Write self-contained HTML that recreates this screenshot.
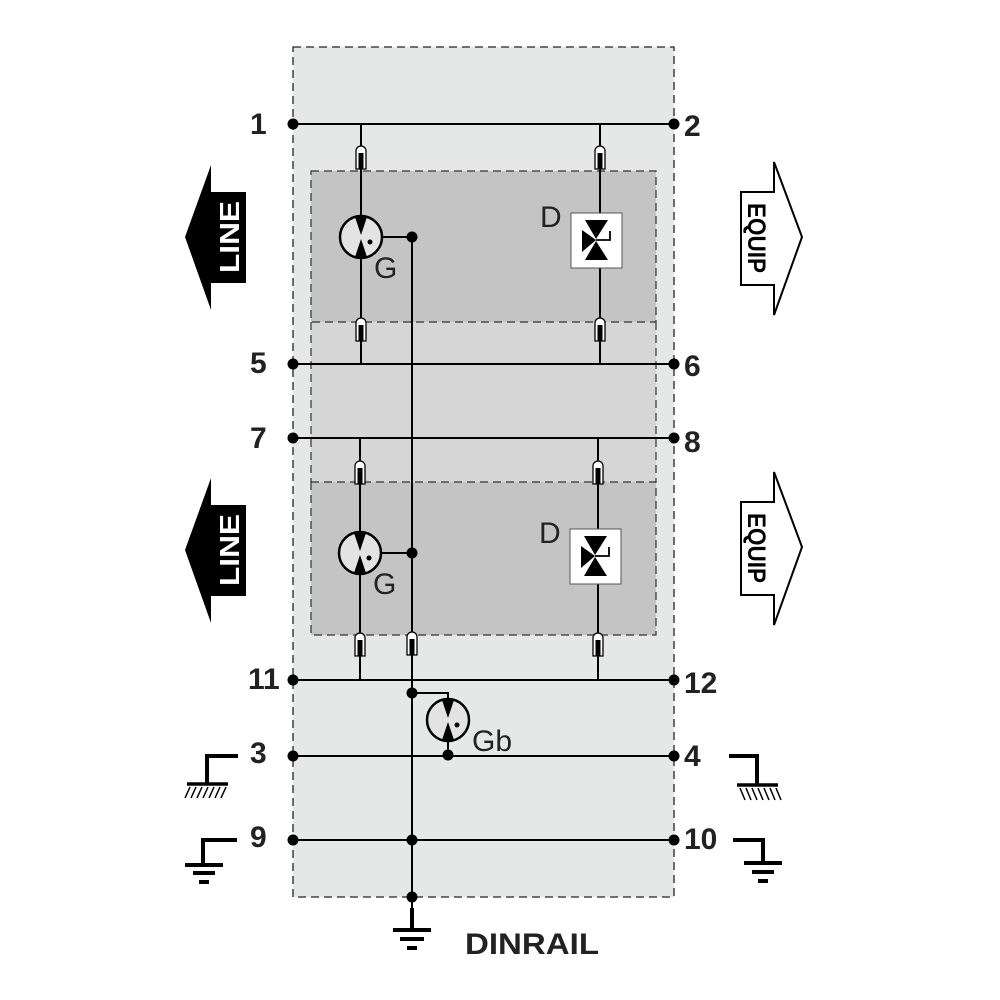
<!DOCTYPE html>
<html><head><meta charset="utf-8"><style>
html,body{margin:0;padding:0;background:#fff}
svg{display:block}
text{font-family:"Liberation Sans",Arial,sans-serif}
</style></head><body>
<svg width="1000" height="1000" viewBox="0 0 1000 1000" xmlns="http://www.w3.org/2000/svg">
<defs>
<g id="fuse">
 <path d="M-5,11 V-7 A5,5 0 0 1 5,-7 V11 Z" fill="#fff" stroke="#000" stroke-width="1.3"/>
 <rect x="-2.5" y="-5" width="5" height="16" fill="#000"/>
</g>
<g id="gas">
 <circle cx="0" cy="0" r="21" fill="#e3e3e3" stroke="#000" stroke-width="2.5"/>
 <polygon points="-6,-20 6,-20 0,-2" fill="#000"/>
 <polygon points="-6,20 6,20 0,2" fill="#000"/>
 <circle cx="9" cy="5" r="2.5" fill="#000"/>
</g>
<g id="diode">
 <rect x="-25" y="-27" width="51" height="55" fill="#fff" stroke="#555" stroke-width="1"/>
 <polygon points="-11,-20 12,-20 0,-1" fill="#000"/>
 <polygon points="-11,20 12,20 0,1" fill="#000"/>
 <polygon points="-14,-10 -14,12 0,0" fill="#000"/>
 <polyline points="0,0 14,0 14,-9" fill="none" stroke="#000" stroke-width="1.8"/>
</g>
</defs>

<rect x="293" y="47" width="381" height="850" fill="#e6e7e7" stroke="#222" stroke-width="1.3" stroke-dasharray="8,5"/>
<rect x="311" y="322" width="345" height="160" fill="#d6d6d6"/>
<rect x="311" y="171" width="345" height="151" fill="#c4c4c4" stroke="#333" stroke-width="1.2" stroke-dasharray="8,5"/>
<rect x="311" y="482" width="345" height="153" fill="#c4c4c4" stroke="#333" stroke-width="1.2" stroke-dasharray="8,5"/>
<line x1="311" y1="322" x2="311" y2="482" stroke="#333" stroke-width="1.2" stroke-dasharray="8,5"/>
<line x1="656" y1="322" x2="656" y2="482" stroke="#333" stroke-width="1.2" stroke-dasharray="8,5"/>

<g stroke="#000" stroke-width="2" fill="none">
 <line x1="293" y1="124" x2="674" y2="124"/>
 <line x1="293" y1="364" x2="674" y2="364"/>
 <line x1="293" y1="438" x2="674" y2="438"/>
 <line x1="293" y1="680" x2="674" y2="680"/>
 <line x1="293" y1="756" x2="674" y2="756"/>
 <line x1="293" y1="840" x2="674" y2="840"/>
 <line x1="361" y1="124" x2="361" y2="364"/>
 <line x1="600" y1="124" x2="600" y2="364"/>
 <line x1="360" y1="438" x2="360" y2="680"/>
 <line x1="598" y1="438" x2="598" y2="680"/>
 <line x1="412" y1="237" x2="412" y2="925"/>
 <line x1="361" y1="237" x2="412" y2="237"/>
 <line x1="360" y1="553" x2="412" y2="553"/>
 <polyline points="412,693 448,693 448,756"/>
</g>

<use href="#fuse" x="361" y="158"/>
<use href="#fuse" x="600" y="158"/>
<use href="#fuse" x="361" y="330"/>
<use href="#fuse" x="600" y="330"/>
<use href="#fuse" x="360" y="473"/>
<use href="#fuse" x="598" y="473"/>
<use href="#fuse" x="360" y="645"/>
<use href="#fuse" x="412" y="644"/>
<use href="#fuse" x="598" y="645"/>

<use href="#gas" x="361" y="237"/>
<use href="#gas" x="360" y="553"/>
<use href="#gas" x="448" y="720"/>
<use href="#diode" x="596" y="240"/>
<use href="#diode" x="595" y="556"/>

<g fill="#000">
 <circle cx="293" cy="124" r="5.5"/><circle cx="674" cy="124" r="5.5"/>
 <circle cx="293" cy="364" r="5.5"/><circle cx="674" cy="364" r="5.5"/>
 <circle cx="293" cy="438" r="5.5"/><circle cx="674" cy="438" r="5.5"/>
 <circle cx="293" cy="680" r="5.5"/><circle cx="674" cy="680" r="5.5"/>
 <circle cx="293" cy="756" r="5.5"/><circle cx="674" cy="756" r="5.5"/>
 <circle cx="293" cy="840" r="5.5"/><circle cx="674" cy="840" r="5.5"/>
 <circle cx="412" cy="237" r="5.5"/><circle cx="412" cy="553" r="5.5"/>
 <circle cx="412" cy="693" r="5.5"/><circle cx="448" cy="755" r="5.5"/>
 <circle cx="412" cy="840" r="5.5"/><circle cx="412" cy="897" r="5.5"/>
</g>

<g font-size="30" fill="#222">
 <text x="374" y="278">G</text>
 <text x="373" y="594">G</text>
 <text x="540" y="227">D</text>
 <text x="539" y="543">D</text>
 <text x="472" y="751">Gb</text>
</g>

<g font-size="30" font-weight="bold" fill="#222">
 <text x="250" y="134">1</text><text x="684" y="136">2</text>
 <text x="250" y="373">5</text><text x="684" y="376">6</text>
 <text x="250" y="448">7</text><text x="684" y="452">8</text>
 <text x="248" y="689">11</text><text x="684" y="693">12</text>
 <text x="250" y="763">3</text><text x="684" y="766">4</text>
 <text x="250" y="847">9</text><text x="684" y="849">10</text>
</g>

<g>
 <polygon points="185,237 211,165 211,192 246,192 246,283 211,283 211,310" fill="#000"/>
 <text transform="translate(239,237) rotate(-90)" text-anchor="middle" font-size="28" font-weight="bold" fill="#fff" textLength="72" lengthAdjust="spacingAndGlyphs">LINE</text>
 <polygon points="185,550 211,478 211,505 246,505 246,596 211,596 211,623" fill="#000"/>
 <text transform="translate(239,550) rotate(-90)" text-anchor="middle" font-size="28" font-weight="bold" fill="#fff" textLength="72" lengthAdjust="spacingAndGlyphs">LINE</text>
</g>
<g fill="#fff" stroke="#000" stroke-width="2">
 <polygon points="802,237 774,162 774,192 741,192 741,285 774,285 774,315"/>
 <polygon points="802,547 774,472 774,502 741,502 741,595 774,595 774,625"/>
</g>
<g font-size="25" font-weight="bold" fill="#000">
 <text transform="translate(748,238) rotate(90)" text-anchor="middle" textLength="70" lengthAdjust="spacingAndGlyphs">EQUIP</text>
 <text transform="translate(748,548) rotate(90)" text-anchor="middle" textLength="70" lengthAdjust="spacingAndGlyphs">EQUIP</text>
</g>

<g stroke="#000" fill="none">
 <polyline points="238,756 207,756 207,783" stroke-width="4"/>
 <line x1="187" y1="784" x2="228" y2="784" stroke-width="3.5"/>
 <g stroke-width="1.5">
  <line x1="190" y1="787" x2="185" y2="798"/><line x1="196" y1="787" x2="191" y2="798"/>
  <line x1="202" y1="787" x2="197" y2="798"/><line x1="208" y1="787" x2="203" y2="798"/>
  <line x1="214" y1="787" x2="209" y2="798"/><line x1="220" y1="787" x2="215" y2="798"/>
  <line x1="226" y1="787" x2="221" y2="798"/>
 </g>
 <polyline points="237,840 203,840 203,864" stroke-width="4"/>
 <line x1="185" y1="865" x2="223" y2="865" stroke-width="4"/>
 <line x1="193" y1="873" x2="215" y2="873" stroke-width="4"/>
 <line x1="199" y1="882" x2="209" y2="882" stroke-width="4"/>
 <polyline points="729,756 757,756 757,784" stroke-width="4"/>
 <line x1="737" y1="785" x2="778" y2="785" stroke-width="3.5"/>
 <g stroke-width="1.5">
  <line x1="740" y1="788" x2="745" y2="800"/><line x1="746" y1="788" x2="751" y2="800"/>
  <line x1="752" y1="788" x2="757" y2="800"/><line x1="758" y1="788" x2="763" y2="800"/>
  <line x1="764" y1="788" x2="769" y2="800"/><line x1="770" y1="788" x2="775" y2="800"/>
  <line x1="776" y1="788" x2="781" y2="800"/>
 </g>
 <polyline points="733,840 763,840 763,862" stroke-width="4"/>
 <line x1="744" y1="863" x2="782" y2="863" stroke-width="4"/>
 <line x1="752" y1="872" x2="774" y2="872" stroke-width="4"/>
 <line x1="758" y1="881" x2="768" y2="881" stroke-width="4"/>
 <line x1="412" y1="908" x2="412" y2="930" stroke-width="4"/>
 <line x1="393" y1="930" x2="431" y2="930" stroke-width="4"/>
 <line x1="400" y1="939" x2="424" y2="939" stroke-width="4"/>
 <line x1="407" y1="948" x2="417" y2="948" stroke-width="4"/>
</g>
<text x="465" y="954" font-size="30" font-weight="bold" fill="#222" textLength="134" lengthAdjust="spacingAndGlyphs">DINRAIL</text>
</svg>
</body></html>
